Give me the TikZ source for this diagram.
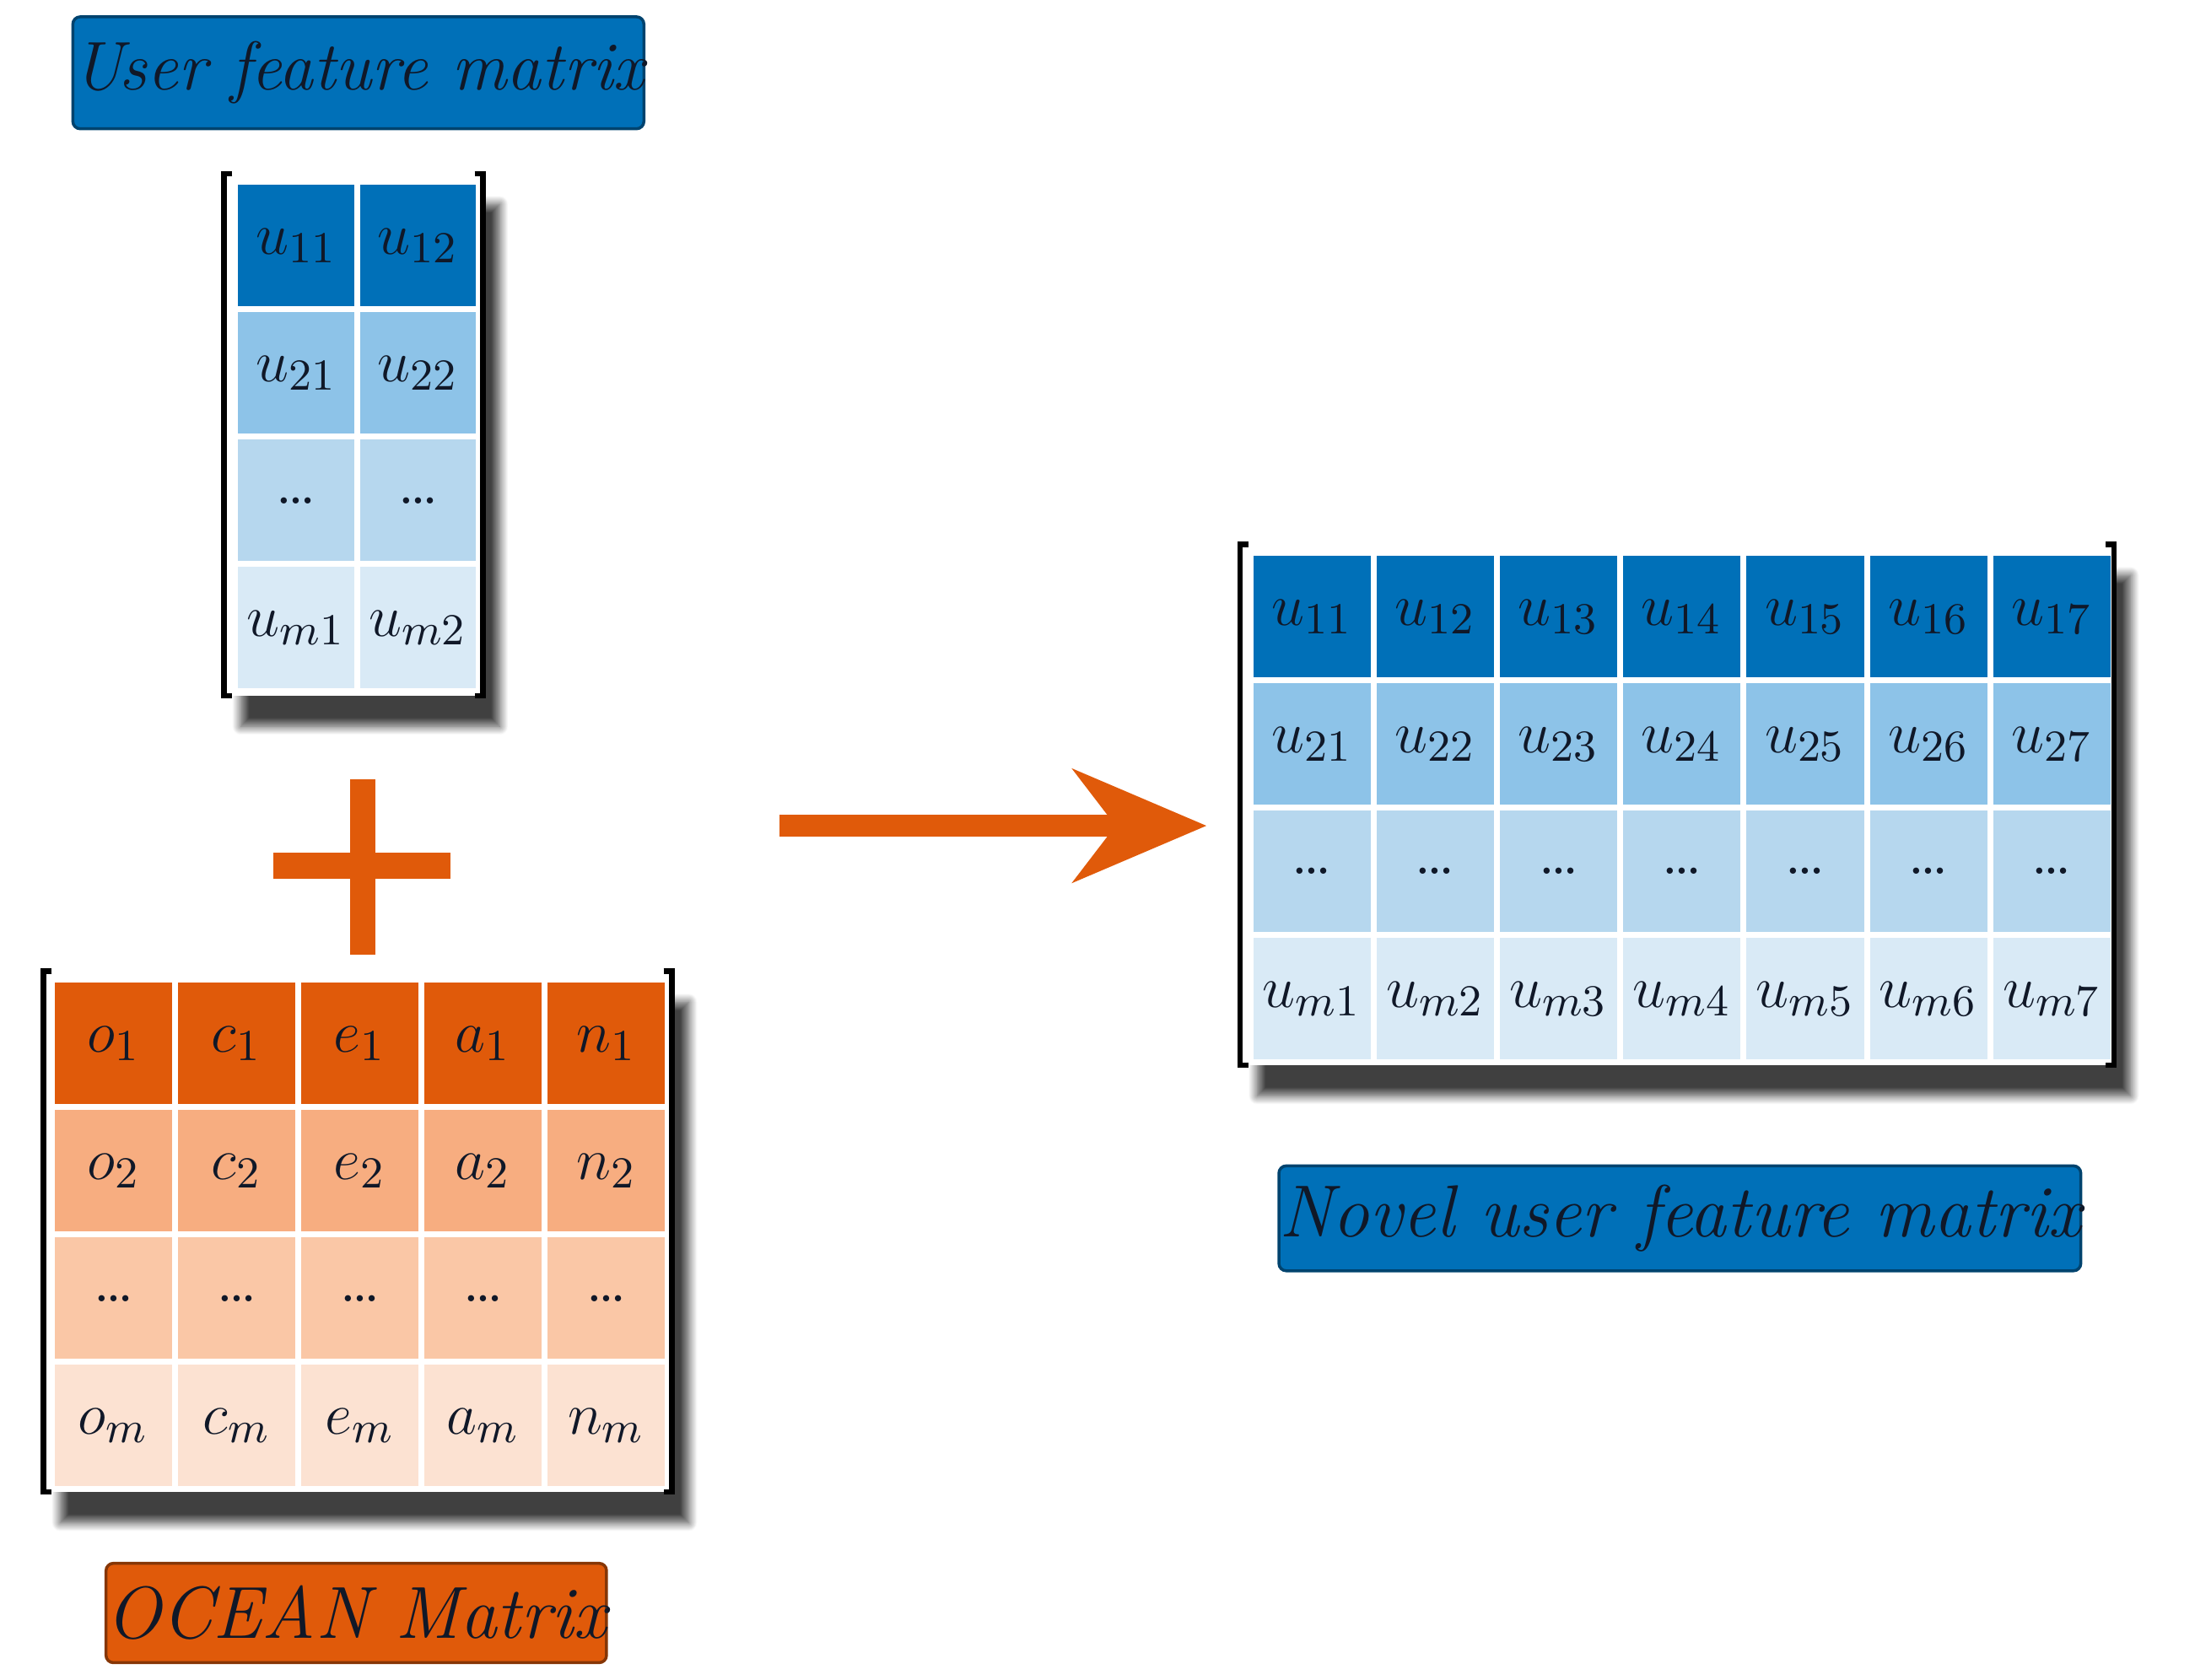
\documentclass[tikz,border=0pt]{standalone}
\usetikzlibrary{shadows.blur,arrows.meta}
\definecolor{bA}{HTML}{0070B8}
\definecolor{bB}{HTML}{8DC3E8}
\definecolor{bC}{HTML}{B6D7EE}
\definecolor{bD}{HTML}{D9EAF6}
\definecolor{oA}{HTML}{E05A0A}
\definecolor{oB}{HTML}{F7AD80}
\definecolor{oC}{HTML}{FAC7A6}
\definecolor{oD}{HTML}{FCE2D2}
\definecolor{txt}{HTML}{101828}
\tikzset{
 cell/.style={draw=white,line width=1.2pt,minimum width=0.875cm,minimum height=0.9cm,inner sep=0pt,anchor=north west,font=\fontsize{13}{15}\selectfont,text=txt},
 title/.style={draw=bA!60!black,line width=0.6pt,rounded corners=1.5pt,inner sep=0pt,font=\fontsize{14}{16}\selectfont\itshape,text=txt},
 brk/.style={line width=1.1pt,black},
 shad/.style={fill=white,blur shadow={shadow xshift=0.12cm,shadow yshift=-0.22cm,shadow blur steps=12,shadow opacity=75}},
}
\newcommand{\brkt}[4]{% x1 y1 x2 y2
 \draw[brk] (#1+0.06,#2) -- (#1,#2) -- (#1,#4) -- (#1+0.06,#4);
 \draw[brk] (#3-0.06,#2) -- (#3,#2) -- (#3,#4) -- (#3-0.06,#4);}
\begin{document}
\begin{tikzpicture}[x=1cm,y=1cm]
\useasboundingbox (0,0) rectangle (15.68,-12);
% User feature matrix title
\node[title,fill=bA,minimum width=3.42cm,minimum height=0.8cm] (t1) at (2.56,-0.52) {User feature matrix};
% small matrix
\fill[shad] (1.6,-1.24) rectangle (3.45,-4.97);
\foreach \r/\c/\lab in {0/bA/{1},1/bB/{2},2/bC/{},3/bD/{m}}{
 \foreach \k in {1,2}{
  \pgfmathsetmacro{\xx}{1.66+(\k-1)*0.87}
  \pgfmathsetmacro{\yy}{-1.28-\r*0.91}
  \ifnum\r=2
   \node[cell,fill=\c,minimum width=0.87cm,minimum height=0.91cm] (s\r\k) at (\xx,\yy) {\dots};
  \else
   \node[cell,fill=\c,minimum width=0.87cm,minimum height=0.91cm] (s\r\k) at (\xx,\yy) {$u_{\lab\k}$};
  \fi
 }}
\brkt{1.6}{-1.24}{3.45}{-4.97}
% plus
\fill[oA] (2.5,-5.57) rectangle (2.68,-6.82);
\fill[oA] (1.95,-6.09) rectangle (3.22,-6.28);
% OCEAN matrix
\fill[shad] (0.31,-6.94) rectangle (4.8,-10.66);
\foreach \r/\c/\lab in {0/oA/1,1/oB/2,2/oC/,3/oD/m}{
 \foreach \k/\v in {1/o,2/c,3/e,4/a,5/n}{
  \pgfmathsetmacro{\xx}{0.35+(\k-1)*0.88}
  \pgfmathsetmacro{\yy}{-6.98-\r*0.91}
  \ifnum\r=2
   \node[cell,fill=\c,minimum width=0.88cm,minimum height=0.91cm] (o\r\k) at (\xx,\yy) {\dots};
  \else
   \node[cell,fill=\c,minimum width=0.88cm,minimum height=0.91cm] (o\r\k) at (\xx,\yy) {$\v_{\lab}$};
  \fi
 }}
\brkt{0.31}{-6.94}{4.8}{-10.66}
\node[title,fill=oA,draw=oA!60!black,minimum width=3.09cm,minimum height=0.71cm,font=\fontsize{15}{17}\selectfont\itshape] (t2) at (2.545,-11.525) {OCEAN Matrix};
% big matrix
\fill[shad] (8.86,-3.89) rectangle (15.1,-7.61);
\foreach \r/\c/\lab in {0/bA/1,1/bB/2,2/bC/,3/bD/m}{
 \foreach \k in {1,...,7}{
  \pgfmathsetmacro{\xx}{8.91+(\k-1)*0.881}
  \pgfmathsetmacro{\yy}{-3.93-\r*0.91}
  \ifnum\r=2
   \node[cell,fill=\c,minimum width=0.881cm,minimum height=0.91cm] (b\r\k) at (\xx,\yy) {\dots};
  \else
   \node[cell,fill=\c,minimum width=0.881cm,minimum height=0.91cm] (b\r\k) at (\xx,\yy) {$u_{\lab\k}$};
  \fi
 }}
\brkt{8.86}{-3.89}{15.1}{-7.61}
\node[title,fill=bA,minimum width=4.88cm,minimum height=0.75cm,font=\fontsize{15}{17}\selectfont\itshape] (t3) at (12.0,-8.705) {Novel user feature matrix};
% arrow
\coordinate (a1) at (5.57,-5.9);
\coordinate (a2) at (8.62,-5.9);
\draw[oA,line width=4.5pt,-{Stealth[length=0.95cm,width=0.8cm,inset=0.3cm]}] (a1) -- (a2);
\end{tikzpicture}
\end{document}
